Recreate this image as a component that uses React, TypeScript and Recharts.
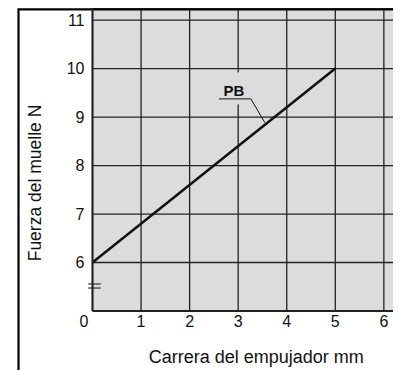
import React from "react";
import {
  LineChart,
  Line,
  XAxis,
  YAxis,
  CartesianGrid,
  ReferenceLine,
  ReferenceArea,
} from "recharts";

const strokeMm = [0, 5];
const forceN = [6, 10];
const xTicks = [0, 1, 2, 3, 4, 5, 6];
const yTicks = [6, 7, 8, 9, 10, 11];
const seriesName = "PB";
const xTitle = "Carrera del empujador mm";
const yTitle = "Fuerza del muelle N";

const data = strokeMm.map((x, i) => ({ x, y: forceN[i] }));

const FONT = "'Liberation Sans', Arial, sans-serif";

const XTick = (props: any) => {
  const { x, y, payload } = props;
  const dx = payload.value === 0 ? -8.5 : 0;
  return (
    <text
      x={x + dx}
      y={y + 8}
      textAnchor="middle"
      fontSize={16}
      fontFamily={FONT}
      fill="#111"
    >
      {payload.value}
    </text>
  );
};

const XTitle = (props: any) => {
  const vb = props.viewBox || {};
  return (
    <text
      x={vb.x + vb.width / 2 + 12}
      y={vb.y + 52.4}
      textAnchor="middle"
      fontSize={18}
      fontFamily={FONT}
      fill="#111"
    >
      {xTitle}
    </text>
  );
};

const YTitle = () => {
  const cx = 33.3;
  const cy = 175;
  return (
    <text
      x={cx}
      y={cy}
      transform={`rotate(-90, ${cx}, ${cy})`}
      textAnchor="middle"
      fontSize={17.5}
      fontFamily={FONT}
      fill="#111"
    >
      {yTitle}
    </text>
  );
};

const PBLabel = (props: any) => {
  const vb = props.viewBox || {};
  return (
    <text
      x={vb.x + 15}
      y={vb.y - 3}
      textAnchor="middle"
      fontSize={15}
      fontWeight="bold"
      fontFamily={FONT}
      fill="#111"
    >
      {seriesName}
    </text>
  );
};

export default function App() {
  return (
    <div style={{ width: 393, height: 362 }}>
      <LineChart
        width={393}
        height={362}
        data={data}
        margin={{ top: 0, right: 5, bottom: 29, left: 0.5 }}
      >
        <CartesianGrid
          fill="#dcdcdc"
          fillOpacity={1}
          stroke="#222"
          strokeWidth={1.3}
        />
        <XAxis
          dataKey="x"
          type="number"
          domain={[0, 6.25]}
          ticks={xTicks}
          height={30}
          tickLine={false}
          tickSize={6}
          tickMargin={2}
          axisLine={{ stroke: "#222", strokeWidth: 2 }}
          tick={<XTick />}
          label={<XTitle />}
          allowDataOverflow
        />
        <YAxis
          type="number"
          domain={[5, 11.25]}
          ticks={yTicks}
          width={84}
          tickLine={false}
          axisLine={{ stroke: "#222", strokeWidth: 2 }}
          tick={{ fontSize: 16, fontFamily: FONT, fill: "#111" }}
          label={<YTitle />}
          allowDataOverflow
        />
        <ReferenceArea
          x1={2.89}
          x2={3.13}
          y1={9.26}
          y2={9.92}
          fill="#dcdcdc"
          fillOpacity={1}
          stroke="none"
          ifOverflow="visible"
        />
        <ReferenceLine
          segment={[
            { x: 2.603, y: 9.375 },
            { x: 3.261, y: 9.375 },
          ]}
          stroke="#111"
          strokeWidth={1}
          ifOverflow="visible"
          label={<PBLabel />}
        />
        <ReferenceLine
          segment={[
            { x: 3.261, y: 9.375 },
            { x: 3.549, y: 8.887 },
          ]}
          stroke="#111"
          strokeWidth={1}
          ifOverflow="visible"
        />
        <ReferenceLine
          segment={[
            { x: -0.09, y: 5.557 },
            { x: 0.17, y: 5.557 },
          ]}
          stroke="#111"
          strokeWidth={1}
          ifOverflow="visible"
        />
        <ReferenceLine
          segment={[
            { x: -0.09, y: 5.474 },
            { x: 0.17, y: 5.474 },
          ]}
          stroke="#111"
          strokeWidth={1}
          ifOverflow="visible"
        />
        <Line
          dataKey="y"
          type="linear"
          stroke="#111"
          strokeWidth={2.5}
          dot={false}
          isAnimationActive={false}
        />
        <ReferenceArea
          x1={-1.524}
          x2={6.232}
          y1={3.7}
          y2={11.22}
          fill="none"
          stroke="#000"
          strokeWidth={2.2}
          ifOverflow="visible"
        />
      </LineChart>
    </div>
  );
}
